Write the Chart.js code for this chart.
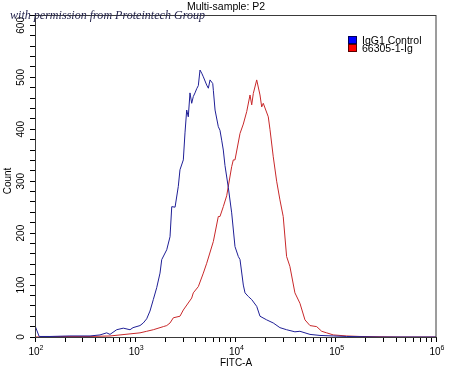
<!DOCTYPE html>
<html><head><meta charset="utf-8">
<script src="https://cdn.jsdelivr.net/npm/chart.js@4.4.0/dist/chart.umd.min.js"></script>
<style>html,body{margin:0;padding:0;background:#fff}canvas{display:block}</style>
</head><body>
<canvas id="c" width="450" height="370"></canvas>
<script>
// ---------- texts ----------
const chartTitle = 'Multi-sample: P2';
const watermarkText = 'with permission from Proteintech Group';
const xAxisTitle = 'FITC-A';
const yAxisTitle = 'Count';
const seriesNames = ['IgG1 Control', '66305-1-Ig'];

// ---------- ticks ----------
const xDecades = [100, 1000, 10000, 100000, 1000000];
const xDecadeBase = '10';
const xDecadeExponents = ['2', '3', '4', '5', '6'];
const xMinorMultipliers = [1, 2, 3, 4, 5, 6, 7, 8, 9];
const yMin = 0, yMax = 620, yMinorStep = 20;
const yTickLabels = [0, 100, 200, 300, 400, 500, 600];

// ---------- series (FITC-A value, count) ----------
const blueX = [100, 110, 141, 223, 354, 445, 519, 560, 653, 760, 887, 950, 1115, 1203, 1300, 1403, 1514, 1637, 1766, 1837, 2061, 2223, 2313, 2496, 2688, 2794, 3016, 3135, 3260, 3381, 3516, 3656, 3794, 3945, 4102, 4258, 4426, 4600, 4777, 5163, 5360, 5572, 5929, 6013, 6252, 6736, 7002, 7280, 7557, 7857, 8476, 9161, 9885, 10671, 11093, 11968, 12443, 13425, 14510, 16278, 17553, 20460, 23800, 27745, 32343, 39140, 43930, 55330, 69640, 94660, 128600, 276300, 1000000];
const blueY = [22, 1, 1, 2, 2, 4, 8, 5, 14, 17, 14, 18, 22, 27, 35, 50, 72, 95, 123, 149, 168, 193, 251, 250, 290, 322, 341, 393, 437, 424, 470, 450, 463, 470, 478, 484, 514, 508, 501, 485, 479, 495, 488, 475, 437, 405, 398, 379, 360, 330, 288, 239, 174, 155, 149, 100, 85, 78, 72, 59, 40, 33, 27, 18, 14, 10, 11, 5, 3, 2, 1, 0, 0];

const redX = [100, 178, 354, 560, 705, 887, 1115, 1300, 1514, 1905, 2061, 2223, 2398, 2794, 3016, 3656, 3794, 4258, 4777, 5163, 6013, 6736, 7002, 7557, 8168, 9161, 9508, 9885, 11093, 11968, 12936, 13957, 14510, 15059, 16278, 17553, 18250, 18928, 21228, 22069, 23800, 25728, 27745, 29921, 32343, 34877, 39140, 43930, 49300, 55330, 64540, 72440, 81220, 94660, 128600, 174500, 437600, 1000000];
const redY = [0, 1, 1, 2, 4, 6, 8, 11, 14, 20, 22, 27, 37, 40, 52, 75, 85, 97, 123, 142, 184, 232, 232, 251, 272, 328, 341, 341, 392, 410, 434, 466, 447, 469, 495, 466, 443, 450, 424, 400, 347, 300, 264, 232, 155, 136, 85, 65, 33, 22, 20, 11, 8, 4, 2, 1, 0, 0];

const seriesColors = ['#1f1f96', '#c8282a'];
const legendColors = ['#0000ff', '#ff0000'];

const toPoints = (xs, ys) => xs.map((x, i) => ({x: x, y: ys[i]}));

const FONT = '"Liberation Sans", Arial, sans-serif';

const decorPlugin = {
  id: 'decor',
  afterDraw(chart) {
    const ctx = chart.ctx;
    const a = chart.chartArea;
    const ys = chart.scales.y;
    const xs = chart.scales.x;
    ctx.save();
    // frame
    ctx.strokeStyle = '#3a3a3a';
    ctx.lineWidth = 1;
    ctx.strokeRect(Math.round(a.left) + 0.5, Math.round(a.top) + 0.5, Math.round(a.right - a.left) - 1 + 0.5, Math.round(a.bottom - a.top));
    // title
    ctx.fillStyle = '#000';
    ctx.font = '10.5px ' + FONT;
    ctx.textAlign = 'center';
    ctx.textBaseline = 'middle';
    ctx.fillText(chartTitle, 226, 7);
    // x tick labels: 10 with superscript exponent
    xDecades.forEach((d, i) => {
      const px = xs.getPixelForValue(d);
      ctx.textBaseline = 'alphabetic';
      ctx.textAlign = 'right';
      ctx.font = '10px ' + FONT;
      ctx.fillText(xDecadeBase, px + 4.5, 355);
      ctx.textAlign = 'left';
      ctx.font = '7px ' + FONT;
      ctx.fillText(xDecadeExponents[i], px + 4.5, 350);
    });
    // y tick labels (rotated)
    ctx.font = '10px ' + FONT;
    yTickLabels.forEach(v => {
      const py = ys.getPixelForValue(v);
      ctx.save();
      ctx.translate(21, py);
      ctx.rotate(-Math.PI / 2);
      ctx.textAlign = 'center';
      ctx.textBaseline = 'middle';
      ctx.fillText(String(v), 0, 0);
      ctx.restore();
    });
    // y title
    ctx.save();
    ctx.translate(8.5, 181);
    ctx.rotate(-Math.PI / 2);
    ctx.textAlign = 'center';
    ctx.textBaseline = 'middle';
    ctx.font = '10px ' + FONT;
    ctx.fillText(yAxisTitle, 0, 0);
    ctx.restore();
    // x title
    ctx.font = '10px ' + FONT;
    ctx.textAlign = 'center';
    ctx.textBaseline = 'middle';
    ctx.fillText(xAxisTitle, 236, 363);
    // legend
    chart.data.datasets.forEach((ds, i) => {
      const top = 36 + i * 8;
      ctx.fillStyle = legendColors[i];
      ctx.fillRect(348, top, 9, 8);
      ctx.strokeStyle = i === 0 ? '#00005a' : '#5a0000';
      ctx.strokeRect(348.5, top + 0.5, 8, 7);
      ctx.fillStyle = '#000';
      ctx.font = '10.5px ' + FONT;
      ctx.textAlign = 'left';
      ctx.textBaseline = 'alphabetic';
      ctx.fillText(ds.label, 362, top + 7.5);
    });
    // watermark
    ctx.font = 'italic 12px "Liberation Serif", "DejaVu Serif", serif';
    const w = ctx.measureText(watermarkText).width;
    ctx.save();
    ctx.translate(10, 18.5);
    ctx.scale(195 / w, 1);
    ctx.fillStyle = '#26264e';
    ctx.textAlign = 'left';
    ctx.textBaseline = 'alphabetic';
    ctx.fillText(watermarkText, 0, 0);
    ctx.restore();
    ctx.restore();
  }
};

new Chart(document.getElementById('c'), {
  type: 'line',
  data: {
    datasets: [
      {label: seriesNames[0], data: toPoints(blueX, blueY), borderColor: seriesColors[0], borderWidth: 1, pointRadius: 0, tension: 0, fill: false},
      {label: seriesNames[1], data: toPoints(redX, redY), borderColor: seriesColors[1], borderWidth: 1, pointRadius: 0, tension: 0, fill: false}
    ]
  },
  options: {
    responsive: false,
    animation: false,
    devicePixelRatio: 1,
    layout: {padding: {top: 15, right: 14, left: 0, bottom: 0}},
    plugins: {legend: {display: false}, title: {display: false}, tooltip: {enabled: false}},
    scales: {
      x: {
        type: 'logarithmic',
        min: xDecades[0],
        max: xDecades[xDecades.length - 1],
        afterFit(s) { s.height = 33; },
        afterBuildTicks(s) {
          const t = [];
          xDecades.forEach((d, i) => {
            if (i < xDecades.length - 1) xMinorMultipliers.forEach(m => t.push({value: d * m}));
            else t.push({value: d});
          });
          s.ticks = t;
        },
        border: {display: true, color: '#000', width: 1},
        grid: {drawOnChartArea: false, drawTicks: true, tickLength: 5, color: '#000'},
        ticks: {autoSkip: false, maxRotation: 0, minRotation: 0, padding: 2, callback() { return ''; }}
      },
      y: {
        type: 'linear',
        min: yMin, max: yMax,
        afterFit(s) { s.width = 35; },
        border: {display: true, color: '#000', width: 1},
        grid: {drawOnChartArea: false, drawTicks: true, tickLength: 5, color: '#000'},
        ticks: {stepSize: yMinorStep, autoSkip: false, callback() { return ''; }}
      }
    }
  },
  plugins: [decorPlugin]
});
</script>
</body></html>
